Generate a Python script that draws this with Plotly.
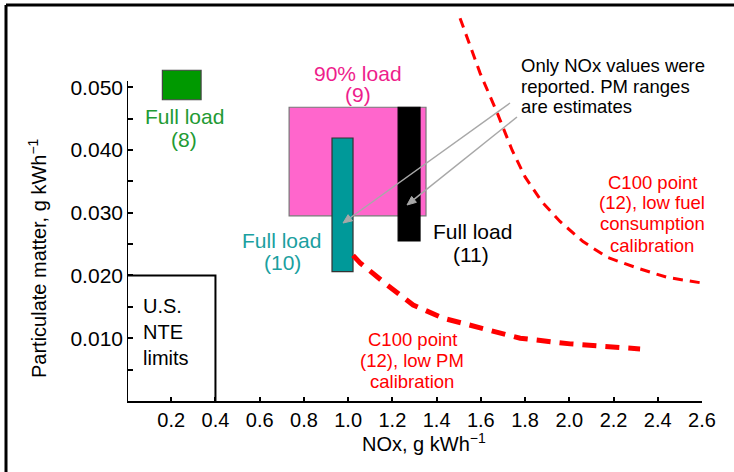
import math
import plotly.graph_objects as go

# ---------------- data ----------------
x_ticks = [0.2, 0.4, 0.6, 0.8, 1.0, 1.2, 1.4, 1.6, 1.8, 2.0, 2.2, 2.4, 2.6]
x_tick_text = ["0.2", "0.4", "0.6", "0.8", "1.0", "1.2", "1.4", "1.6", "1.8", "2.0", "2.2", "2.4", "2.6"]
y_ticks = [0.010, 0.020, 0.030, 0.040, 0.050]
y_tick_text = ["0.010", "0.020", "0.030", "0.040", "0.050"]
y_minor_ticks = [0.005, 0.015, 0.025, 0.035, 0.045]

# operating-point boxes: NOx range, PM range
box_names = ["Full load (8)", "90% load (9)", "Full load (10)", "Full load (11)"]
box_nox_lo = [0.16, 0.733, 0.927, 1.226]
box_nox_hi = [0.335, 1.352, 1.022, 1.325]
box_pm_lo = [0.0480, 0.0295, 0.0206, 0.0255]
box_pm_hi = [0.0527, 0.0468, 0.0419, 0.0468]
box_fill = ["#009900", "#FF66CC", "#009999", "#000000"]
box_edge = ["#444444", "#777777", "#333333", "#000000"]

# US NTE limits
nte_nox = 0.4
nte_pm = 0.020

# C100 point (12) trade-off curves
fuel_nox = [1.506, 1.597, 1.674, 1.741, 1.800, 1.877, 1.958, 2.062, 2.171, 2.306, 2.442, 2.600]
fuel_pm = [0.0610, 0.0522, 0.0459, 0.0400, 0.0357, 0.0317, 0.0286, 0.0254, 0.0229, 0.0212, 0.0197, 0.0188]
pmcal_nox = [1.022, 1.054, 1.176, 1.294, 1.429, 1.583, 1.778, 2.004, 2.320]
pmcal_pm = [0.0232, 0.0220, 0.0185, 0.0153, 0.0132, 0.0118, 0.0100, 0.0091, 0.0083]

# ---------------- layout geometry ----------------
W, H = 734, 472
L, R, T, B = 127, 32, 15, 71
X_RANGE = [0, 2.6]
Y_RANGE = [0, 0.0615]
PW, PH = W - L - R, H - T - B


def px2paper(px, py):
    return (px - L) / PW, (H - B - py) / PH


def px2data(px, py):
    return ((px - L) / PW * (X_RANGE[1] - X_RANGE[0]) + X_RANGE[0],
            (H - B - py) / PH * (Y_RANGE[1] - Y_RANGE[0]) + Y_RANGE[0])


FONT = "Arial, Liberation Sans, sans-serif"

fig = go.Figure()

fig.add_trace(go.Scatter(x=fuel_nox, y=fuel_pm, mode="lines",
                         line=dict(color="#FF0000", width=3, dash="10px,7px"),
                         showlegend=False, hoverinfo="skip"))
fig.add_trace(go.Scatter(x=pmcal_nox, y=pmcal_pm, mode="lines",
                         line=dict(color="#FF0000", width=5, dash="14px,9px"),
                         showlegend=False, hoverinfo="skip"))

shapes = []
for i in range(len(box_names)):
    shapes.append(dict(type="rect", xref="x", yref="y",
                       x0=box_nox_lo[i], x1=box_nox_hi[i],
                       y0=box_pm_lo[i], y1=box_pm_hi[i],
                       fillcolor=box_fill[i], line=dict(color=box_edge[i], width=1.2),
                       layer="below"))

# NTE limit box
shapes.append(dict(type="path", xref="x", yref="y",
                   path=f"M 0 {nte_pm} L {nte_nox} {nte_pm} L {nte_nox} 0",
                   line=dict(color="black", width=2)))
# y axis line
shapes.append(dict(type="line", xref="x", yref="y", x0=0, x1=0, y0=0, y1=0.051,
                   line=dict(color="black", width=2)))
# outer frame (top and left edges visible)
fx0, fy0 = px2paper(6, 5)
fx1, fy1 = px2paper(740, 480)
shapes.append(dict(type="line", xref="paper", yref="paper", x0=fx0, x1=fx1, y0=fy0, y1=fy0,
                   line=dict(color="black", width=3)))
shapes.append(dict(type="line", xref="paper", yref="paper", x0=fx0, x1=fx0, y0=fy0, y1=fy1,
                   line=dict(color="black", width=3)))


# gray pointer arrows from the note (drawn in pixel space, converted to data)
def arrow(tail, head, color="#A8A8A8"):
    tx, ty = tail
    hx, hy = head
    d = math.hypot(hx - tx, hy - ty)
    ux, uy = (hx - tx) / d, (hy - ty) / d
    alen, aw = 9, 3.8
    bx, by = hx - ux * alen, hy - uy * alen
    p1 = px2data(bx - uy * aw, by + ux * aw)
    p2 = px2data(bx + uy * aw, by - ux * aw)
    a0 = px2data(tx, ty)
    a1 = px2data(bx, by)
    h = px2data(hx, hy)
    shapes.append(dict(type="line", xref="x", yref="y", x0=a0[0], y0=a0[1], x1=a1[0], y1=a1[1],
                       line=dict(color=color, width=1.5)))
    shapes.append(dict(type="path", xref="x", yref="y",
                       path=f"M {h[0]} {h[1]} L {p1[0]} {p1[1]} L {p2[0]} {p2[1]} Z",
                       fillcolor=color, line=dict(color=color, width=1)))


arrow((510, 103), (343, 223))
arrow((517, 117), (407, 205))

annotations = []


def txt(s, px, py, color, size, anchor="center"):
    x, y = px2paper(px, py)
    annotations.append(dict(text=s, x=x, y=y, xref="paper", yref="paper",
                            showarrow=False, xanchor=anchor, yanchor="middle",
                            font=dict(family=FONT, size=size, color=color)))


GREEN_T = "#229A33"
PINK_T = "#EE1E8C"
TEAL_T = "#1AA0A0"
RED_T = "#FF0000"

txt("Full load", 184, 116, GREEN_T, 21)
txt("(8)", 184, 139, GREEN_T, 21)
txt("90% load", 358, 73, PINK_T, 21)
txt("(9)", 358, 95, PINK_T, 21)
txt("Full load", 281, 240, TEAL_T, 21)
txt("(10)", 282, 262, TEAL_T, 21)
txt("Full load", 472, 231, "black", 21)
txt("(11)", 471, 254, "black", 21)
txt("Only NOx values were", 519, 65, "black", 18.5, "left")
txt("reported. PM ranges", 519, 86, "black", 18.5, "left")
txt("are estimates", 519, 107, "black", 18.5, "left")
txt("C100 point", 652, 182, RED_T, 18.5)
txt("(12), low fuel", 652, 203, RED_T, 18.5)
txt("consumption", 652, 224, RED_T, 18.5)
txt("calibration", 652, 245, RED_T, 18.5)
txt("C100 point", 412, 339, RED_T, 18.5)
txt("(12), low PM", 412, 360, RED_T, 18.5)
txt("calibration", 412, 381, RED_T, 18.5)
txt("U.S.", 141, 306, "black", 20, "left")
txt("NTE", 141, 332, "black", 20, "left")
txt("limits", 141, 358, "black", 20, "left")

# axis titles
xt, yt = px2paper(424, 442)
annotations.append(dict(text="NOx, g kWh<sup>−1</sup>", x=xt, y=yt, xref="paper", yref="paper",
                        showarrow=False, xanchor="center", yanchor="middle",
                        font=dict(family=FONT, size=20, color="black")))
xt, yt = px2paper(37, 258)
annotations.append(dict(text="Particulate matter, g kWh<sup>−1</sup>", x=xt, y=yt,
                        xref="paper", yref="paper", textangle=-90,
                        showarrow=False, xanchor="center", yanchor="middle",
                        font=dict(family=FONT, size=20, color="black")))

fig.update_layout(
    width=W, height=H,
    margin=dict(l=L, r=R, t=T, b=B, pad=0),
    paper_bgcolor="white", plot_bgcolor="white",
    showlegend=False,
    shapes=shapes, annotations=annotations,
    font=dict(family=FONT, size=20, color="black"),
    xaxis=dict(range=X_RANGE, showgrid=False, zeroline=False,
               showline=True, linecolor="black", linewidth=2,
               tickvals=x_ticks, ticktext=x_tick_text,
               ticks="inside", ticklen=4, tickwidth=2, tickcolor="black",
               tickfont=dict(family=FONT, size=20, color="black")),
    yaxis=dict(range=Y_RANGE, showgrid=False, zeroline=False, showline=False,
               tickvals=y_ticks, ticktext=y_tick_text,
               ticks="inside", ticklen=6, tickwidth=2, tickcolor="black",
               ticklabelstandoff=3,
               minor=dict(tickvals=y_minor_ticks, ticks="inside", ticklen=6,
                          tickwidth=2, tickcolor="black", showgrid=False),
               tickfont=dict(family=FONT, size=21, color="black")),
)

fig.write_html("out.html")
